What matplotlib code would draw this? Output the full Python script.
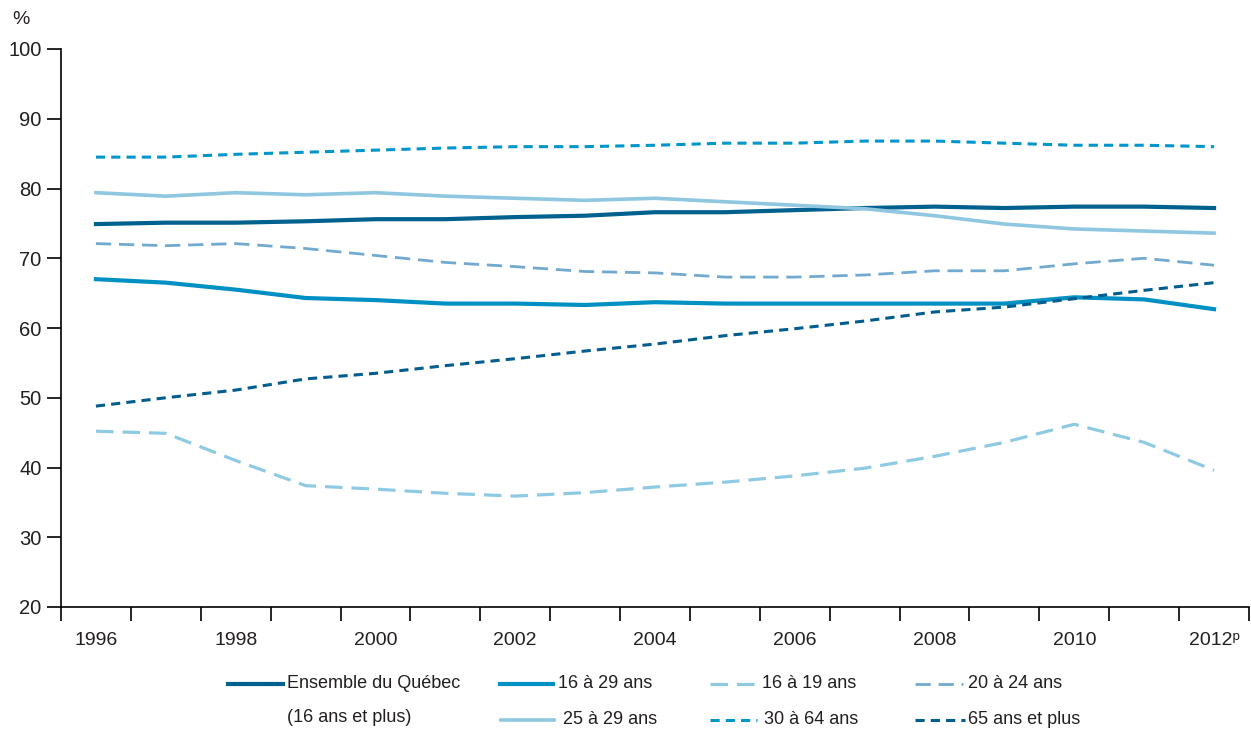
import numpy as np
import matplotlib.pyplot as plt
from matplotlib.lines import Line2D

plt.rcParams['font.family'] = ['DejaVu Sans Condensed', 'Liberation Sans', 'DejaVu Sans']

years = list(range(1996, 2013))
tick_labels = ["1996", "1998", "2000", "2002", "2004", "2006", "2008", "2010", "2012ᵖ"]

ensemble = [74.9, 75.1, 75.1, 75.3, 75.6, 75.6, 75.9, 76.1, 76.6, 76.6, 76.9, 77.2, 77.4, 77.2, 77.4, 77.4, 77.2]
a16_29 = [67.0, 66.5, 65.5, 64.3, 64.0, 63.5, 63.5, 63.3, 63.7, 63.5, 63.5, 63.5, 63.5, 63.5, 64.4, 64.1, 62.7]
a16_19 = [45.2, 44.9, 41.0, 37.4, 36.9, 36.3, 35.9, 36.4, 37.2, 37.9, 38.8, 39.9, 41.6, 43.6, 46.2, 43.6, 39.6]
a20_24 = [72.1, 71.8, 72.1, 71.4, 70.4, 69.4, 68.8, 68.1, 67.9, 67.3, 67.3, 67.6, 68.2, 68.2, 69.2, 70.0, 69.0]
a25_29 = [79.4, 78.9, 79.4, 79.1, 79.4, 78.9, 78.6, 78.3, 78.6, 78.1, 77.6, 77.1, 76.1, 74.9, 74.2, 73.9, 73.6]
a30_64 = [84.5, 84.5, 84.9, 85.2, 85.5, 85.8, 86.0, 86.0, 86.2, 86.5, 86.5, 86.8, 86.8, 86.5, 86.2, 86.2, 86.0]
a65 = [48.8, 50.0, 51.1, 52.7, 53.5, 54.6, 55.6, 56.7, 57.7, 58.9, 59.9, 61.0, 62.3, 63.0, 64.2, 65.4, 66.5]

c_ens = "#00608e"
c_1629 = "#0090c3"
c_1619 = "#8fcae3"
c_2024 = "#72a9cf"
c_2529 = "#8fc6e0"
c_3064 = "#0095cb"
c_65 = "#005d8d"
txt = "#231f20"

long_dash = (0, (5.5, 2.8))
short_dash = (0, (3, 2))

series = [
    ("Ensemble du Québec", ensemble, c_ens, "-", 3.0),
    ("16 à 29 ans", a16_29, c_1629, "-", 3.0),
    ("16 à 19 ans", a16_19, c_1619, long_dash, 2.3),
    ("20 à 24 ans", a20_24, c_2024, long_dash, 2.0),
    ("25 à 29 ans", a25_29, c_2529, "-", 2.6),
    ("30 à 64 ans", a30_64, c_3064, short_dash, 2.2),
    ("65 ans et plus", a65, c_65, short_dash, 2.2),
]

fig = plt.figure(figsize=(12.51, 7.34), dpi=100)
ax = fig.add_axes([61 / 1251, 1 - 607 / 734, (1249 - 61) / 1251, (607 - 49) / 734])

x = np.arange(len(years))
for name, vals, col, ls, lw in series:
    ax.plot(x, vals, color=col, linestyle=ls, linewidth=lw)

ax.set_xlim(-0.5, len(years) - 0.5)
ax.set_ylim(20, 100)
ax.set_yticks(range(20, 101, 10))
ax.set_xticks(x[::2])
ax.set_xticklabels(tick_labels)
ax.set_xticks(np.arange(-0.5, len(years)), minor=True)
ax.tick_params(axis='x', which='major', length=0, pad=18, labelsize=14, labelcolor=txt)
ax.tick_params(axis='x', which='minor', length=10, width=1.2, direction='out')
ax.tick_params(axis='y', length=10, width=1.2, labelsize=14.5, labelcolor=txt, pad=4)
ax.tick_params(axis='both', color='black')
for s in ['top', 'right']:
    ax.spines[s].set_visible(False)
for s in ['left', 'bottom']:
    ax.spines[s].set_linewidth(1.2)

fig.text(12 / 1251, 1 - 20 / 734, "%", fontsize=14, color=txt, va='center')

# legend drawn by hand
W, H = 1251, 734
leg = [
    (0, 228, 283, 684, 287),
    (1, 500, 553, 684, 558),
    (2, 710, 757, 684, 762),
    (3, 915, 963, 684, 968),
    (4, 501, 554, 720, 563),
    (5, 710, 757, 720, 764),
    (6, 915, 965, 720, 968),
]
for i, x0, x1, yy, tx in leg:
    name, vals, col, ls, lw = series[i]
    fig.add_artist(Line2D([x0 / W, x1 / W], [1 - yy / H, 1 - yy / H], color=col,
                          linestyle=ls, linewidth=lw, transform=fig.transFigure))
    fig.text(tx / W, 1 - yy / H, name, fontsize=13, color=txt, va='center')
fig.text(287 / W, 1 - 717 / H, "(16 ans et plus)", fontsize=13, color=txt, va='center')

fig.savefig("out.png", dpi=100)
